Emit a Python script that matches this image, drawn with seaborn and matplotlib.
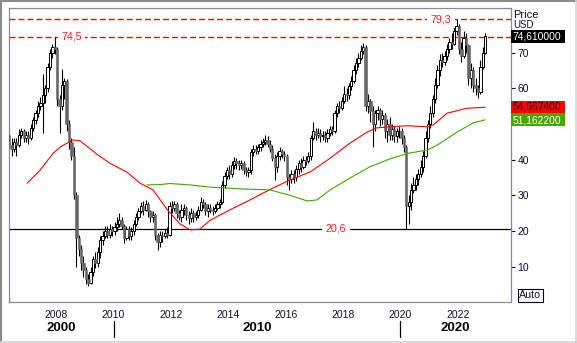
import numpy as np
import pandas as pd
import matplotlib
matplotlib.use("Agg")
import matplotlib.pyplot as plt
import matplotlib.dates as mdates
from matplotlib.patches import Rectangle
from matplotlib.lines import Line2D
from matplotlib.transforms import blended_transform_factory
import seaborn as sns

# ---------------- data (monthly candles, May 2006 .. Dec 2022) ----------------
first_month = "2006-05-01"

open_ = [
    47, 44, 43, 45, 44, 47, 48, 46,                                   # 2006 May-Dec
    47, 46, 49, 51, 53, 55, 56, 58, 60, 66, 70, 71.5,                 # 2007
    71, 57, 55, 61, 62, 50, 45, 41, 30, 18, 15, 11,                   # 2008
    9, 6.5, 5.5, 8.5, 12, 11, 14, 17.5, 18.5, 20, 19, 20.5,           # 2009
    20, 21, 22, 23, 21.5, 18, 20.5, 18.5, 20, 22, 24, 25.5,           # 2010
    27, 26, 27.5, 25.5, 24, 24.5, 19, 17, 19, 18.5, 19.5, 19,         # 2011
    27, 26.5, 27.5, 25, 24, 26, 26.5, 24.5, 23.5, 25, 24, 24.5,       # 2012
    26, 28, 27.5, 25.5, 26.5, 26, 25.5, 26.5, 27.5, 28, 33, 35.5,     # 2013
    37, 36, 38.5, 39.5, 39, 38.5, 39, 37, 36.5, 37, 42, 43,           # 2014
    42.5, 43.5, 44.5, 45, 45.5, 44.5, 43, 40.5, 38, 41, 42.5, 41.5,   # 2015
    41, 35, 34.5, 36, 35, 37.5, 39, 38, 40, 39.5, 41, 46,             # 2016
    48, 47, 47.5, 46.5, 47, 46, 47.5, 48.5, 48, 53, 55, 54.5,         # 2017
    56.5, 58.5, 58, 60.5, 62, 65, 67, 68.5, 70.5, 71.5, 55, 56.5,     # 2018
    53.5, 50, 53, 54, 51.5, 52.5, 48, 50, 47, 48.5, 46.5, 48,         # 2019
    48, 46, 43.5, 27, 28, 31.5, 33, 34.5, 36, 38, 41, 46,             # 2020
    50, 53, 57, 61, 65, 68, 67.5, 69, 71, 73, 72.5, 76,               # 2021
    77.5, 71, 69, 74, 72, 63, 65, 61, 60, 59, 66, 70,                 # 2022
]
high = [
    48, 46, 46, 46, 48.5, 49, 48.5, 48,
    48, 50, 52, 54, 56.5, 57.5, 64, 61, 67, 71, 72.5, 74.5,
    71.5, 58, 65.4, 63, 62.5, 51, 46, 43.5, 31, 19, 16, 13,
    10, 8, 10, 13, 14, 15.5, 18.5, 20, 21.5, 21.5, 22, 21.5,
    22.5, 24, 25, 24, 22, 21.5, 21.5, 21, 23, 25, 26.5, 28,
    28.5, 28.7, 28, 26, 25.5, 25, 19.5, 20, 20, 20.5, 21, 28,
    28.5, 28.5, 28, 26, 27.5, 27.5, 27, 25.5, 26.5, 26, 25.5, 27,
    29.5, 29, 28, 27.5, 27.5, 27, 27.5, 28.5, 29, 34, 36.5, 38,
    38.5, 39.5, 40.7, 40.5, 40, 40, 39.5, 38, 38, 43, 44, 44,
    44.5, 45.5, 46, 47, 46.5, 45.5, 44, 41.5, 42, 43.5, 43, 42.5,
    41.5, 36, 37, 37, 38.5, 40, 40.5, 41, 41, 42, 47, 50.5,
    49, 49, 48.5, 48, 48, 48.5, 49.5, 49.5, 54, 56, 56.5, 57.5,
    60.5, 60, 61.5, 63.5, 66.5, 68.5, 70, 72, 72.7, 72, 58.5, 57,
    55, 54, 55, 54.5, 54, 53, 51.5, 52, 50, 49.5, 49, 49.5,
    49, 47, 44, 30, 33.5, 35, 36, 37.5, 40, 42.5, 48, 51,
    55, 58, 63, 66.5, 69.5, 70, 70.5, 72.5, 74, 75.5, 77.5, 79.3,
    78, 73, 76, 75.5, 72.5, 67, 66, 63, 61, 68, 71.5, 75.5,
]
low = [
    42, 41, 42, 41, 43.5, 46, 45, 45,
    44.5, 45.5, 48, 50, 52, 54, 47.5, 56, 59, 65, 68.5, 69.5,
    55, 47.5, 54, 57, 48, 43, 40, 29, 10, 13, 9, 7,
    5, 4.6, 5, 7.5, 9.5, 10, 12.5, 16, 18, 18, 18, 18.5,
    19, 20, 21, 20.5, 16.5, 17.5, 17.5, 17.5, 19, 21.5, 23, 25,
    24.5, 25.5, 24, 22.5, 22.5, 17.5, 14.7, 15.5, 17, 18, 18, 18.5,
    25, 25.5, 23.5, 23, 22.5, 24.5, 23, 22, 22.5, 22.5, 23, 23.5,
    25.5, 26.5, 24.5, 24, 25, 24.5, 25, 26, 26.5, 27.5, 32, 34.5,
    34.5, 35, 37.5, 37.5, 37, 37.5, 36, 35.5, 35, 36, 41, 41.5,
    41.5, 42.5, 43.5, 44, 43.5, 42, 39.5, 34.3, 36.5, 40, 40.5, 39.5,
    33, 31.4, 33.5, 33.5, 34, 36, 36.5, 37.5, 38.5, 39, 40, 45.5,
    45.5, 46, 45, 45.5, 45, 45, 46.5, 47, 47.5, 52, 53, 54,
    56, 56.5, 57, 59.5, 61.5, 64, 66, 68, 69.5, 53.5, 53, 50.5,
    43.5, 48, 51, 49.5, 50, 46, 45, 45.5, 45.5, 45, 45, 46,
    44.5, 42, 20.6, 22, 26, 30.5, 31.5, 33, 35, 36.5, 40.5, 45,
    49, 52, 56, 60, 63.5, 66, 66.5, 68, 70, 71, 72, 75,
    69.5, 67.5, 68.5, 70, 61, 60, 59, 58, 57.2, 58.5, 65.5, 69.5,
]
close = [
    44, 43, 45, 44, 47, 48, 46, 47,
    46, 49, 51, 53, 55, 56, 58, 60, 66, 70, 71.5, 71,
    57, 55, 61, 62, 50, 45, 41, 30, 18, 15, 11, 9,
    6.5, 5.5, 8.5, 12, 11, 14, 17.5, 18.5, 20, 19, 20.5, 20,
    21, 22, 23, 21.5, 18, 20.5, 18.5, 20, 22, 24, 25.5, 27,
    26, 27.5, 25.5, 24, 24.5, 19, 17, 19, 18.5, 19.5, 19, 27,
    26.5, 27.5, 25, 24, 26, 26.5, 24.5, 23.5, 25, 24, 24.5, 26,
    28, 27.5, 25.5, 26.5, 26, 25.5, 26.5, 27.5, 28, 33, 35.5, 37,
    36, 38.5, 39.5, 39, 38.5, 39, 37, 36.5, 37, 42, 43, 42.5,
    43.5, 44.5, 45, 45.5, 44.5, 43, 40.5, 38, 41, 42.5, 41.5, 41,
    35, 34.5, 36, 35, 37.5, 39, 38, 40, 39.5, 41, 46, 48,
    47, 47.5, 46.5, 47, 46, 47.5, 48.5, 48, 53, 55, 54.5, 56.5,
    58.5, 58, 60.5, 62, 65, 67, 68.5, 70.5, 71.5, 55, 56.5, 53.5,
    50, 53, 54, 51.5, 52.5, 48, 50, 47, 48.5, 46.5, 48, 48,
    46, 43.5, 27, 28, 31.5, 33, 34.5, 36, 38, 41, 46, 50,
    53, 57, 61, 65, 68, 67.5, 69, 71, 73, 72.5, 76, 77.5,
    71, 69, 74, 72, 63, 65, 61, 60, 59, 66, 70, 74.61,
]

ma_red_dates = ["2006-12-30", "2007-06-10", "2007-11-25", "2008-02-20", "2008-08-01",
                "2008-11-01", "2009-06-05", "2009-11-15", "2010-06-20", "2010-12-05",
                "2011-05-20", "2011-11-15", "2012-04-25", "2012-09-01", "2013-01-05",
                "2013-05-15", "2014-01-20", "2014-10-05", "2015-07-20", "2016-02-25",
                "2016-11-05", "2017-07-20", "2018-03-28", "2018-11-01", "2019-03-05",
                "2019-08-20", "2020-03-25", "2020-12-05", "2021-02-20", "2021-08-15",
                "2022-04-25", "2022-12-15"]
ma_red = [33.4, 37.0, 41.8, 43.5, 45.5,
          45.3, 41.5, 39.0, 36.5, 33.4,
          31.5, 26.0, 22.0, 20.3, 20.5,
          23.0, 25.9, 28.7, 32.0, 34.3,
          36.5, 40.4, 44.6, 47.7, 48.9,
          49.2, 49.5, 49.2, 49.7, 53.0,
          54.4, 54.67]

ma_green_dates = ["2011-03-01", "2011-08-15", "2011-12-20", "2012-09-01", "2013-05-15",
                  "2014-06-01", "2015-06-15", "2016-02-25", "2016-10-01", "2017-02-01",
                  "2017-07-20", "2018-03-28", "2018-12-10", "2019-08-20", "2020-03-25",
                  "2020-12-05", "2021-04-10", "2021-12-20", "2022-07-15", "2022-12-15"]
ma_green = [32.9, 33.0, 33.3, 32.9, 32.3,
            31.8, 31.5, 30.0, 28.4, 28.7,
            31.5, 34.8, 38.0, 40.2, 41.7,
            42.7, 44.0, 47.7, 50.3, 51.16]

level_top = 79.3
level_prev = 74.5
level_bottom = 20.6
last_price = 74.61
last_red = 54.6674
last_green = 51.1622

y_ticks = [10, 20, 30, 40, 50, 60, 70]
y_tick_labels = ["10", "20", "30", "40", "", "60", "70"]   # 50 is hidden under the value box
x_tick_years = [2008, 2010, 2012, 2014, 2016, 2018, 2020, 2022]
decade_labels = ["2000", "2010", "2020"]
decade_starts = ["2010-01-01", "2020-01-01"]
x_range = ["2006-05-12", "2023-11-08"]
y_range = [0, 82.5]

# ---------------- style ----------------
sns.set_style("white")
plt.rcParams["font.family"] = ["Liberation Sans", "DejaVu Sans"]
plt.rcParams["lines.scale_dashes"] = False

W, H = 577, 343
fig = plt.figure(figsize=(W / 100, H / 100), dpi=100)
fig.patch.set_facecolor("white")
ax = fig.add_axes([9 / W, 1 - 302.3 / H, (511 - 9) / W, (302.3 - 8) / H])
ax.set_facecolor("white")

dates = pd.date_range(first_month, periods=len(close), freq="MS") + pd.Timedelta(days=14)
x = mdates.date2num(dates)
o = np.array(open_, float)
c = np.array(close, float)
h = np.array(high, float)
l = np.array(low, float)
up = c >= o

ax.vlines(x, l, h, color="black", lw=0.8, zorder=2)
ax.bar(x[up], c[up] - o[up], bottom=o[up], width=30, color="white",
       edgecolor="black", linewidth=0.7, zorder=3)
ax.bar(x[~up], c[~up] - o[~up], bottom=o[~up], width=30, color="#666666",
       edgecolor="#666666", linewidth=0.4, zorder=3)

sns.lineplot(x=mdates.date2num(pd.to_datetime(ma_red_dates)), y=ma_red, ax=ax,
             color="#ff0000", lw=0.8, zorder=4, legend=False)
sns.lineplot(x=mdates.date2num(pd.to_datetime(ma_green_dates)), y=ma_green, ax=ax,
             color="#3da800", lw=0.8, zorder=4, legend=False)

dash = (0, (4.3, 2.2))
ax.axhline(level_top, color="#ff0000", lw=1.0, ls=dash, zorder=1)
ax.axhline(level_prev, color="#ff0000", lw=1.0, ls=dash, zorder=1)
ax.axhline(level_bottom, color="black", lw=0.9, zorder=1)

blend = blended_transform_factory(ax.transAxes, ax.transData)
lbl_kw = dict(ha="center", va="center", color="#ff1a1a", fontsize=7.7, transform=blend,
              bbox=dict(fc="white", ec="none", pad=2.5), zorder=5)
ax.text((441 - 9) / 502, level_top, f"{level_top:.1f}".replace(".", ","), **lbl_kw)
ax.text((71.5 - 9) / 502, level_prev, f"{level_prev:.1f}".replace(".", ","), **lbl_kw)
ax.text((336 - 9) / 502, level_bottom, f"{level_bottom:.1f}".replace(".", ","), **lbl_kw)

ax.set_xlim(mdates.date2num(pd.to_datetime(x_range)))
ax.set_ylim(*y_range)

# axes / ticks
for s in ax.spines.values():
    s.set_color("#8a8a96")
    s.set_linewidth(0.9)
ax.yaxis.tick_right()
ax.set_yticks(y_ticks)
ax.set_yticklabels(y_tick_labels)
ax.tick_params(axis="y", direction="out", length=3, width=0.8, pad=1.5,
               labelsize=7.5, colors="#101028", left=False, right=True)
xt = mdates.date2num(pd.to_datetime([f"{y}-01-01" for y in x_tick_years]))
ax.set_xticks(xt)
ax.set_xticklabels([str(y) for y in x_tick_years])
ax.tick_params(axis="x", direction="out", length=2.5, width=0.8, pad=3,
               labelsize=7.5, colors="#101028")
ax.set_xlabel("")
ax.set_ylabel("")
ax.grid(False)

# decade row
fig_blend = blended_transform_factory(ax.transData, fig.transFigure)
xl = ax.get_xlim()
bounds = [xl[0]] + list(mdates.date2num(pd.to_datetime(decade_starts))) + [xl[1]]
for i, lab in enumerate(decade_labels):
    mid = (bounds[i] + bounds[i + 1]) / 2
    ax.text(mid, 1 - 328 / H, lab, transform=fig_blend, ha="center", va="center",
            fontsize=9.5, fontweight="bold", color="#080808", clip_on=False)
for b in bounds[1:-1]:
    fig.add_artist(Line2D([b, b], [1 - 321 / H, 1 - 337 / H], transform=fig_blend,
                          color="black", lw=0.9))

# price scale header
fig.text(513 / W, 1 - 15 / H, "Price", fontsize=8, color="#101028", ha="left", va="center")
fig.text(513 / W, 1 - 25.5 / H, "USD", fontsize=7, color="#101028", ha="left", va="center",
         zorder=1)

# value boxes on price scale
fblend = blended_transform_factory(fig.transFigure, ax.transData)
box_h = 13 / 3.567
for val, fc, tc, dy in [(last_price, "black", "white", 0.0),
                        (last_red, "#ff0000", "#1a0000", 0.2),
                        (last_green, "#44a800", "white", -0.2)]:
    r = Rectangle((511 / W, val - box_h / 2), 54 / W, box_h, transform=fblend,
                  facecolor=fc, edgecolor="none", clip_on=False, zorder=10)
    ax.add_artist(r)
    ax.text(512.5 / W, val + dy, f"{val:.6f}".replace(".", ","), transform=fblend,
            ha="left", va="center", fontsize=7.4, color=tc, clip_on=False, zorder=11)

# Auto button
fig.text(530.5 / W, 1 - 295.5 / H, "Auto", fontsize=7.7, color="#101028",
         ha="center", va="center",
         bbox=dict(boxstyle="square,pad=0.12", fc="white", ec="black", lw=0.8))

# outer frame
fig.add_artist(Line2D([0, 1], [1 - 1 / H, 1 - 1 / H], transform=fig.transFigure,
                      color="#8c8c8c", lw=1.5))
fig.add_artist(Line2D([1.2 / W, 1.2 / W], [0, 1], transform=fig.transFigure,
                      color="#8c8c8c", lw=1.5))
fig.add_artist(Line2D([575.5 / W, 575.5 / W], [0, 1], transform=fig.transFigure,
                      color="#d4d4d4", lw=1.2))
fig.add_artist(Line2D([0, 1], [1 - 341.5 / H, 1 - 341.5 / H], transform=fig.transFigure,
                      color="#d4d4d4", lw=1.2))

fig.savefig("out.png", dpi=100, facecolor="white")
